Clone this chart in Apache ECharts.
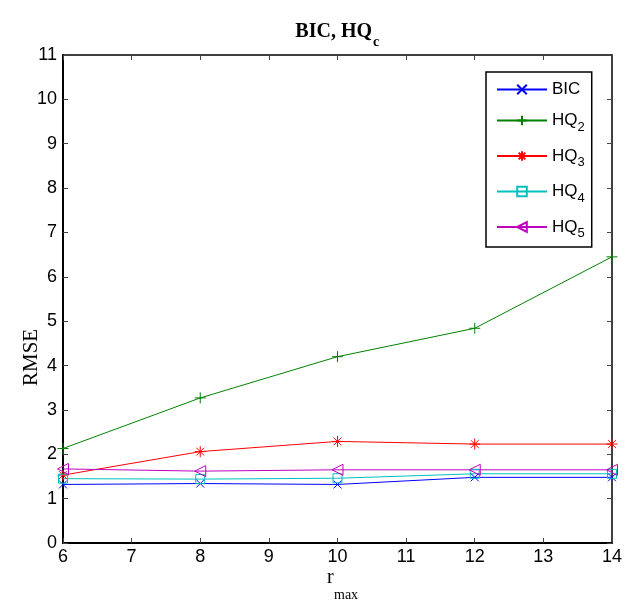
<!DOCTYPE html>
<html>
<head>
<meta charset="utf-8">
<script src="https://cdn.jsdelivr.net/npm/echarts@6/dist/echarts.min.js"></script>
<style>
html,body{margin:0;padding:0;background:#fff;}
#chart{width:625px;height:605px;}
</style>
</head>
<body>
<div id="chart"></div>
<script>
// ---- data ----
var rmax = [6, 8, 10, 12, 14];
var bic = [1.32, 1.34, 1.32, 1.48, 1.48];
var hq2 = [2.13, 3.27, 4.20, 4.84, 6.45];
var hq3 = [1.53, 2.06, 2.29, 2.23, 2.23];
var hq4 = [1.45, 1.44, 1.46, 1.56, 1.56];
var hq5 = [1.67, 1.62, 1.65, 1.65, 1.65];
var seriesNames = ['BIC', 'HQ2', 'HQ3', 'HQ4', 'HQ5'];
var xTicks = [6, 7, 8, 9, 10, 11, 12, 13, 14];
var yTicks = [0, 1, 2, 3, 4, 5, 6, 7, 8, 9, 10, 11];

function pairs(vals) { return rmax.map(function (x, i) { return [x, vals[i]]; }); }

var SYM = {
  x: 'path://M0 0 L10 10 M10 0 L0 10',
  plus: 'path://M5 0 L5 10 M0 5 L10 5',
  star: 'path://M5 0 L5 10 M0 5 L10 5 M1.5 1.5 L8.5 8.5 M8.5 1.5 L1.5 8.5',
  square: 'path://M0 0 L10 0 L10 10 L0 10 Z',
  tri: 'path://M0 5 L10 0 L10 10 Z'
};

function mk(name, vals, color, sym, size) {
  return {
    name: name, type: 'line', data: pairs(vals),
    xAxisIndex: 0, yAxisIndex: 0,
    symbol: sym, symbolSize: size, showSymbol: true,
    lineStyle: { color: color, width: 1 },
    itemStyle: { color: 'rgba(0,0,0,0)', borderColor: color, borderWidth: 1 },
    emphasis: { disabled: true },
    animation: false, z: 3
  };
}

var chart = echarts.init(document.getElementById('chart'), null, { renderer: 'canvas' });
var labelFont = 'Liberation Sans, Arial, sans-serif';
var serif = 'Liberation Serif, Times New Roman, serif';

var option = {
  animation: false,
  grid: { left: 63, right: 10, top: 55, bottom: 62 },
  xAxis: [{
    type: 'value', min: 6, max: 14, interval: 1, position: 'bottom',
    axisLine: { show: true, lineStyle: { color: '#000', width: 2 } },
    axisTick: { show: true, inside: true, length: 5, lineStyle: { color: '#444', width: 1 } },
    axisLabel: { color: '#000', fontSize: 18, fontFamily: labelFont, margin: 5,
      formatter: function (v) { return xTicks.indexOf(v) >= 0 ? String(v) : ''; } },
    splitLine: { show: false }
  }, {
    type: 'value', min: 6, max: 14, interval: 1, position: 'top',
    axisLine: { show: true, onZero: false, lineStyle: { color: '#000', width: 1.5 } },
    axisTick: { show: true, inside: true, length: 5, lineStyle: { color: '#444', width: 1 } },
    axisLabel: { show: false }, splitLine: { show: false }
  }],
  yAxis: [{
    type: 'value', min: 0, max: 11, interval: 1, position: 'left',
    axisLine: { show: true, lineStyle: { color: '#000', width: 2 } },
    axisTick: { show: true, inside: true, length: 5, lineStyle: { color: '#444', width: 1 } },
    axisLabel: { color: '#000', fontSize: 18, fontFamily: labelFont, margin: 6,
      formatter: function (v) { return yTicks.indexOf(v) >= 0 ? String(v) : ''; } },
    splitLine: { show: false }
  }, {
    type: 'value', min: 0, max: 11, interval: 1, position: 'right',
    axisLine: { show: true, onZero: false, lineStyle: { color: '#000', width: 1.5 } },
    axisTick: { show: true, inside: true, length: 5, lineStyle: { color: '#444', width: 1 } },
    axisLabel: { show: false }, splitLine: { show: false }
  }],
  legend: {
    orient: 'vertical', left: 486, top: 72,
    padding: [9, 7, 7, 10],
    itemWidth: 50, itemHeight: 12, itemGap: 14,
    backgroundColor: '#fff',
    borderColor: '#000', borderWidth: 1.5, borderRadius: 0,
    data: seriesNames,
    textStyle: {
      fontFamily: labelFont, fontSize: 17, color: '#000',
      rich: {
        c: { fontFamily: labelFont, fontSize: 17, color: '#000', lineHeight: 12 },
        b: { fontFamily: labelFont, fontSize: 17, color: '#000', lineHeight: 26 },
        s: { fontFamily: labelFont, fontSize: 13, color: '#000', lineHeight: 13, verticalAlign: 'bottom' }
      }
    },
    formatter: function (n) {
      if (n.indexOf('HQ') === 0) return '{b|HQ}{s|' + n.slice(2) + '}';
      return '{c|' + n + '}';
    }
  },
  series: [
    mk('BIC', bic, '#0000ff', SYM.x, 8),
    mk('HQ2', hq2, '#008000', SYM.plus, 11),
    mk('HQ3', hq3, '#ff0000', SYM.star, 11),
    mk('HQ4', hq4, '#00bfbf', SYM.square, 9),
    mk('HQ5', hq5, '#bf00bf', SYM.tri, 11)
  ],
  graphic: [
    { type: 'text', x: 372, y: 22, style: { text: 'BIC, HQ', font: 'bold 20px ' + serif, fill: '#000', textAlign: 'right', textVerticalAlign: 'top' } },
    { type: 'text', x: 373, y: 35, style: { text: 'c', font: 'bold 14px ' + serif, fill: '#000', textAlign: 'left', textVerticalAlign: 'top' } },
    { type: 'text', left: 327, top: 568, style: { text: 'r', font: '20px ' + serif, fill: '#000' } },
    { type: 'text', left: 334, top: 588, style: { text: 'max', font: '14px ' + serif, fill: '#000' } },
    { type: 'text', x: 21, y: 386, rotation: Math.PI / 2,
      style: { text: 'RMSE', font: '21px ' + serif, fill: '#000', textAlign: 'left', textVerticalAlign: 'top' } }
  ]
};
chart.setOption(option);
</script>
</body>
</html>
